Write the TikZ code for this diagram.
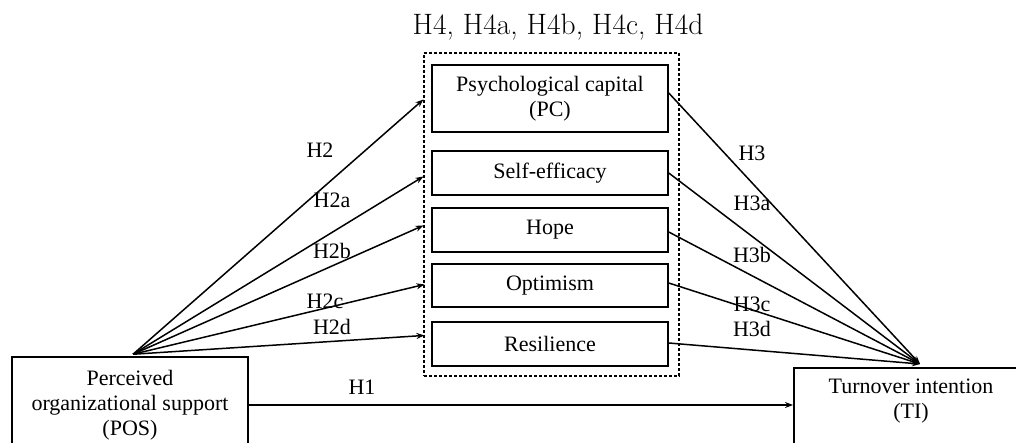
\documentclass[tikz,border=0pt]{standalone}
\usepackage{fontspec}
\newfontfamily\tnr{Liberation Serif}
\usetikzlibrary{arrows.meta,calc}
\begin{document}
\begin{tikzpicture}[x=1pt,y=-1pt,
  box/.style={draw, line width=1.5pt, minimum width=236pt, inner sep=0pt,
    align=center, font=\tnr\fontsize{22}{25}\selectfont},
  hyp/.style={font=\tnr\fontsize{22}{25}\selectfont, inner sep=0pt, align=center},
  link/.style={line width=1.5pt, -{Stealth[length=8pt,width=6pt]}},
  group/.style={draw, line width=1.1pt, dash pattern=on 3pt off 2pt, inner sep=0pt},
  ]
\useasboundingbox (0,0) rectangle (1016,443);
\begin{scope}
\clip (0,0) rectangle (1016,443);

% mediator block
\node[font=\fontsize{29.5}{32}\selectfont] (title) at (558,27) {H4, H4a, H4b, H4c, H4d};
\node[group, minimum width=255pt, minimum height=323pt] (grp) at (551.5,214.5) {};
\node[box, minimum height=67pt] (pc)   at (550,98.5)  {Psychological capital\\(PC)};
\node[box, minimum height=44pt] (se)   at (550,173)   {Self-efficacy};
\node[box, minimum height=44pt] (hope) at (550,230)   {Hope};
\node[box, minimum height=43pt] (opt)  at (550,285.5) {Optimism};
\node[box, minimum height=44pt] (res)  at (550,344)   {Resilience};

% predictor and outcome
\node[box, minimum height=96pt] (pos) at (130,405) {Perceived\\organizational support\\(POS)};
\node[box, minimum height=100pt, anchor=north west] (ti) at (793,367) {};
\node[hyp] (tiname) at (911,401) {Turnover intention\\(TI)};

% connector ends
\coordinate (src) at ($(pos.north)+(3,-2)$);
\coordinate (dst) at ($(ti.north west)+(127,-3)$);
\coordinate (l0) at ($(grp.north west)+(0,47)$);
\coordinate (l1) at ($(grp.north west)+(0,124)$);
\coordinate (l2) at ($(grp.north west)+(0,173)$);
\coordinate (l3) at ($(grp.north west)+(1,232)$);
\coordinate (l4) at ($(grp.north west)+(1,283)$);

% POS -> mediators
\draw[link] (src) -- (l0);
\draw[link] (src) -- (l1);
\draw[link] (src) -- (l2);
\draw[link] (src) -- (l3);
\draw[link] (src) -- (l4);

% mediators -> TI
\draw[link] ($(pc.east)+(0,-5.5)$) -- (dst);
\draw[link] (se.east) -- (dst);
\draw[link] ($(hope.east)+(0,2)$) -- (dst);
\draw[link] ($(opt.east)+(0,-2.5)$) -- (dst);
\draw[link] ($(res.east)+(0,-1)$) -- (dst);

% direct effect
\draw[link] (pos.east) -- (pos.east -| ti.west);

% hypothesis labels
\node[hyp] (h2)  at (320,150) {H2};
\node[hyp] (h2a) at (332,200) {H2a};
\node[hyp] (h2b) at (332,251) {H2b};
\node[hyp] (h2c) at (325,301) {H2c};
\node[hyp] (h2d) at (332,327) {H2d};
\node[hyp] (h1)  at (362,387) {H1};
\node[hyp] (h3)  at (752,153) {H3};
\node[hyp] (h3a) at (752,203) {H3a};
\node[hyp] (h3b) at (752,255) {H3b};
\node[hyp] (h3c) at (752,304) {H3c};
\node[hyp] (h3d) at (752,329) {H3d};
\end{scope}
\end{tikzpicture}
\end{document}
